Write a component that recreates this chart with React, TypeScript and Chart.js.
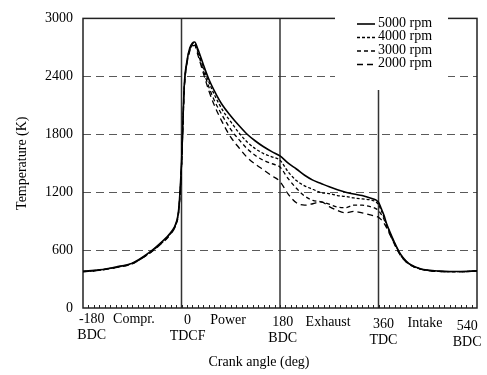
import React, { useEffect, useRef } from "react";
import { Chart, registerables } from "chart.js";

Chart.register(...registerables);

const crankAngle = [-180,-150,-120,-90,-60,-40,-20,-10,-5,0,5,10,15,20,24,30,40,50,60,75,90,105,120,135,150,165,180,195,210,225,240,255,270,285,300,315,330,345,355,360,365,370,375,380,390,400,410,420,435,450,470,490,510,540];

const t5000 = [380,395,425,465,570,665,780,880,1030,1500,2300,2560,2690,2745,2755,2680,2520,2370,2250,2100,1990,1890,1800,1730,1670,1620,1575,1500,1440,1375,1325,1290,1255,1225,1200,1180,1165,1140,1120,1095,1030,960,870,800,670,560,490,445,410,392,382,378,378,385];
const t4000 = [378,393,422,462,565,660,775,875,1020,1480,2280,2550,2680,2735,2745,2660,2490,2340,2210,2050,1930,1815,1720,1650,1600,1565,1530,1410,1320,1265,1230,1195,1185,1165,1155,1140,1130,1120,1100,1070,1010,940,860,790,665,555,485,442,408,390,380,377,377,383];
const t3000 = [377,392,420,460,562,655,770,870,1010,1470,2270,2540,2670,2725,2735,2640,2460,2290,2150,1990,1850,1745,1650,1580,1530,1495,1460,1340,1240,1160,1115,1100,1075,1045,1040,1065,1065,1050,1030,1010,970,920,850,780,655,550,482,440,406,389,380,376,376,382];
const t2000 = [376,390,418,458,560,650,765,865,1000,1460,2260,2530,2660,2715,2720,2620,2430,2250,2100,1920,1770,1660,1560,1490,1430,1370,1310,1180,1090,1065,1080,1100,1050,1010,985,1000,985,965,950,940,915,880,830,770,650,545,480,438,405,388,379,376,376,382];

const seriesLabels = ["5000 rpm", "4000 rpm", "3000 rpm", "2000 rpm"];
const seriesDash = [[], [3, 2], [4, 3], [6, 4]];

const strokeLines = [0, 180, 360];
const tickAngles = [-164, 11, 185, 369, 522];
const tickTop = ["-180", "0", "180", "360", "540"];
const tickBottom = ["BDC", "TDCF", "BDC", "TDC", "BDC"];
const phaseAngles = [-87, 85, 268, 445];
const phaseLabels = ["Compr.", "Power", "Exhaust", "Intake"];

const FAMILY = "'Liberation Serif', 'Times New Roman', serif";
const FONT = "14px " + FAMILY;

export default function App() {
  const ref = useRef<HTMLCanvasElement | null>(null);

  useEffect(() => {
    if (!ref.current) return;
    const series = [t5000, t4000, t3000, t2000];

    const decor = {
      id: "decor",
      beforeDatasetsDraw(chart: any) {
        const { ctx, chartArea: a, scales } = chart;
        const xs = scales.x, ys = scales.y;
        ctx.save();
        ctx.strokeStyle = "#5a5a5a";
        ctx.lineWidth = 1.2;
        ctx.setLineDash([8, 5]);
        ys.ticks.forEach((t: any) => {
          if (t.value <= ys.min || t.value >= ys.max) return;
          const y = Math.round(ys.getPixelForValue(t.value)) + 0.5;
          ctx.beginPath();
          ctx.moveTo(a.left, y);
          ctx.lineTo(a.right, y);
          ctx.stroke();
        });
        ctx.setLineDash([]);
        ctx.strokeStyle = "#333";
        ctx.lineWidth = 1.5;
        strokeLines.forEach((v) => {
          const x = xs.getPixelForValue(v);
          ctx.beginPath();
          ctx.moveTo(x, a.top);
          ctx.lineTo(x, a.bottom);
          ctx.stroke();
        });
        ctx.strokeStyle = "#222";
        ctx.lineWidth = 1;
        for (let v = xs.min + 10; v < xs.max; v += 10) {
          const x = Math.round(xs.getPixelForValue(v)) + 0.5;
          ctx.beginPath();
          ctx.moveTo(x, a.bottom);
          ctx.lineTo(x, a.bottom - 3);
          ctx.stroke();
        }
        ctx.strokeStyle = "#222";
        ctx.lineWidth = 1.5;
        ctx.strokeRect(a.left, a.top, a.right - a.left, a.bottom - a.top);
        ctx.restore();
      },
      afterDraw(chart: any) {
        const { ctx, chartArea: a, scales } = chart;
        const xs = scales.x;
        ctx.save();
        ctx.fillStyle = "#fff";
        ctx.fillRect(335, 8, 113, 82);
        ctx.font = FONT;
        ctx.fillStyle = "#000";
        ctx.textBaseline = "middle";
        ctx.textAlign = "left";
        chart.data.datasets.forEach((ds: any, i: number) => {
          const y = 23 + i * 13.5;
          ctx.strokeStyle = "#000";
          ctx.lineWidth = ds.borderWidth;
          ctx.setLineDash(ds.borderDash || []);
          ctx.beginPath();
          ctx.moveTo(357, y + 1);
          ctx.lineTo(375, y + 1);
          ctx.stroke();
          ctx.setLineDash([]);
          ctx.fillText(ds.label, 378, y);
        });
        ctx.textAlign = "center";
        tickAngles.forEach((v, i) => {
          const x = xs.getPixelForValue(v);
          const y = a.bottom + 11 + i * 1.8;
          ctx.fillText(tickTop[i], x, y);
          ctx.fillText(tickBottom[i], x, y + 16);
        });
        phaseAngles.forEach((v, i) => {
          const x = xs.getPixelForValue(v);
          ctx.fillText(phaseLabels[i], x, a.bottom + 11 + i * 1.5);
        });
        ctx.fillText("Crank angle (deg)", 259, 362);
        ctx.restore();
      },
    };

    const chart = new Chart(ref.current, {
      type: "line",
      data: {
        datasets: series.map((s, i) => ({
          label: seriesLabels[i],
          data: crankAngle.map((x, j) => ({ x, y: s[j] })),
          borderColor: "#000",
          borderWidth: i === 0 ? 1.6 : 1.3,
          borderDash: seriesDash[i],
          pointRadius: 0,
          fill: false,
          cubicInterpolationMode: "monotone",
        })),
      },
      options: {
        animation: false,
        responsive: false,
        maintainAspectRatio: false,
        layout: { padding: { top: 15, right: 10, left: 0, bottom: 0 } },
        plugins: { legend: { display: false }, tooltip: { enabled: false } },
        scales: {
          x: {
            type: "linear",
            min: -180,
            max: 540,
            grid: { display: false },
            border: { display: false },
            ticks: { display: false },
            afterFit: (s: any) => { s.height = 67; },
          },
          y: {
            min: 0,
            max: 3000,
            grid: { display: false, drawTicks: false },
            border: { display: false },
            ticks: {
              stepSize: 600,
              padding: 10,
              color: "#000",
              font: { family: FAMILY, size: 14 },
              callback: (v: any) => String(v),
            },
            title: {
              display: true,
              text: "Temperature (K)",
              color: "#000",
              font: { family: FAMILY, size: 14 },
              padding: { top: 14, bottom: 0 },
            },
            afterFit: (s: any) => { s.width = 83; },
          },
        },
      },
      plugins: [decor],
    } as any);

    return () => chart.destroy();
  }, []);

  return (
    <div style={{ position: "fixed", left: 0, top: 0, width: 487, height: 375, background: "#fff" }}>
      <canvas ref={ref} width={487} height={375} style={{ width: 487, height: 375 }} />
    </div>
  );
}
